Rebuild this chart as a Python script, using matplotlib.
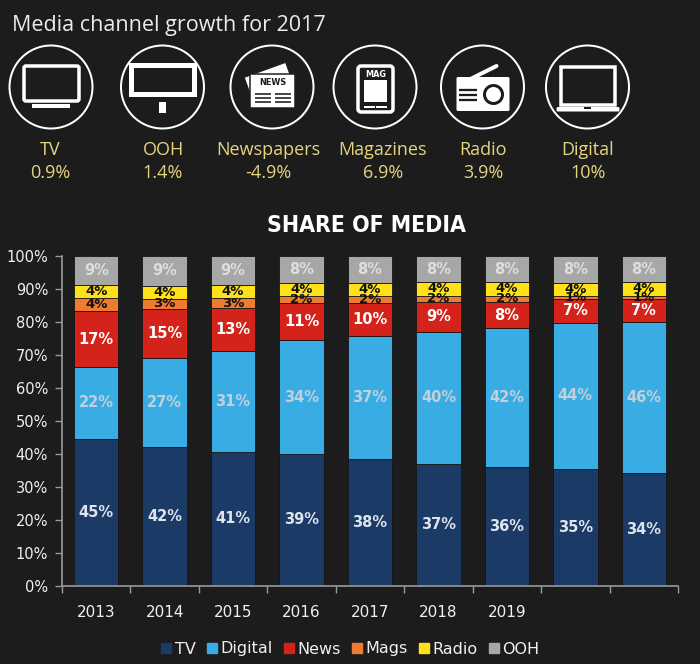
import numpy as np
import matplotlib
matplotlib.use('Agg')
import matplotlib.pyplot as plt
from matplotlib.patches import Circle, Rectangle, FancyBboxPatch, Polygon
from matplotlib.lines import Line2D

# ────────────────────────────────────────────────
# Data
# ────────────────────────────────────────────────
years = ['2013', '2014', '2015', '2016', '2017', '2018', '2019', '', '']
tv      = [45, 42, 41, 39, 38, 37, 36, 35, 34]
digital = [22, 27, 31, 34, 37, 40, 42, 44, 46]
news    = [17, 15, 13, 11, 10, 9, 8, 7, 7]
mags    = [4, 3, 3, 2, 2, 2, 2, 1, 1]
radio   = [4, 4, 4, 4, 4, 4, 4, 4, 4]
ooh     = [9, 9, 9, 8, 8, 8, 8, 8, 8]

series_names = ['TV', 'Digital', 'News', 'Mags', 'Radio', 'OOH']
series_colors = ['#1b3a66', '#39ade3', '#d3231b', '#ee7b2f', '#ffe11a', '#a7a7a7']
label_colors = ['#dde4ee', '#c3d0db', '#ffffff', '#111111', '#111111', '#dedede']

channels = ['TV', 'OOH', 'Newspapers', 'Magazines', 'Radio', 'Digital']
growth = ['0.9%', '1.4%', '-4.9%', '6.9%', '3.9%', '10%']

BG = '#1c1c1c'
GOLD = '#e6d57f'

fig = plt.figure(figsize=(7, 6.64), dpi=100, facecolor=BG)

# ────────────────────────────────────────────────
# Header: title + icons (pixel coords overlay)
# ────────────────────────────────────────────────
top = fig.add_axes([0, 0, 1, 1])
top.set_xlim(0, 700)
top.set_ylim(664, 0)
top.axis('off')
top.patch.set_alpha(0)

top.text(12, 25, 'Media channel growth for 2017', color='#ececec',
         fontsize=15.5, family='Open Sans', va='center', ha='left')

centers = [51, 162.5, 272, 375, 482.5, 587.5]
label_x = [50, 163, 268, 383, 483, 588]
cy = 87
px = 0.72  # 1px in points

for cx in centers:
    top.add_patch(Circle((cx, cy), 41.5, fill=False, ec='white', lw=2 * px))


def rrect(ax, x0, y0, w, h, r=1.5, **kw):
    ax.add_patch(FancyBboxPatch((x0, y0), w, h,
                                boxstyle=f'round,pad=0,rounding_size={r}', **kw))

# TV
cx = centers[0]
rrect(top, cx - 27, cy - 21, 55, 35, r=2, fill=False, ec='white', lw=3.5 * px)
top.add_patch(Rectangle((cx - 19, cy + 17), 38, 3.5, color='white', lw=0))

# OOH billboard
cx = centers[1]
top.add_patch(Rectangle((cx - 31.5, cy - 22.5), 63, 29, fill=False, ec='white', lw=5 * px))
top.add_patch(Rectangle((cx - 3.3, cy + 15), 6.6, 11, color='white', lw=0))

# Newspaper
cx = centers[2]
back = np.array([[-25.8, -6.6], [15.6, -21.6], [25.8, 6.6], [-15.6, 21.6]]) + [cx - 2, cy - 3]
top.add_patch(Polygon(back, closed=True, fc='white', ec=BG, lw=1 * px))
top.add_patch(Rectangle((cx - 22, cy - 13), 45, 34, fc='white', ec=BG, lw=1.5 * px))
top.text(cx + 0.5, cy - 4.5, 'NEWS', color=BG, fontsize=6.5, fontweight='bold',
         fontstretch='condensed', ha='center', va='center')
for yy in (cy + 7, cy + 11, cy + 15):
    top.plot([cx - 17, cx - 1], [yy, yy], color=BG, lw=1.6 * px, solid_capstyle='butt')
    top.plot([cx + 3, cx + 19], [yy, yy], color=BG, lw=1.6 * px, solid_capstyle='butt')

# Magazine tablet
cx = centers[3]
rrect(top, cx - 17, cy - 21, 35, 46, r=3, fc=BG, ec='white', lw=3.5 * px)
top.text(cx + 0.5, cy - 12.5, 'MAG', color='white', fontsize=6.5, fontweight='bold',
         fontstretch='condensed', ha='center', va='center')
top.add_patch(Rectangle((cx - 11, cy - 7), 23, 22, color='white', lw=0))
top.plot([cx - 10, cx - 1], [cy + 20, cy + 20], color='white', lw=2 * px)
top.plot([cx + 2, cx + 11], [cy + 20, cy + 20], color='white', lw=2 * px)

# Radio
cx = centers[4]
top.plot([cx - 22, cx + 14], [cy - 3, cy - 21], color='white', lw=4 * px, solid_capstyle='round')
rrect(top, cx - 26, cy - 10, 53, 34, r=1.5, fc='white', ec='none')
for yy in (cy + 2.5, cy + 7.5, cy + 12.5):
    top.plot([cx - 24, cx - 5.5], [yy, yy], color=BG, lw=2.3 * px, solid_capstyle='butt')
top.add_patch(Circle((cx + 11, cy + 7.5), 10.5, color=BG, lw=0))
top.add_patch(Circle((cx + 11, cy + 7.5), 7.5, color='white', lw=0))

# Laptop
cx = centers[5]
top.add_patch(Rectangle((cx - 27, cy - 20.5), 54, 38.5, fill=False, ec='white', lw=3.5 * px))
rrect(top, cx - 31, cy + 20, 63, 4.5, r=1.5, fc='white', ec='none')
top.add_patch(Rectangle((cx - 3.5, cy + 20), 7, 1.6, color=BG, lw=0))

for x, name, g in zip(label_x, channels, growth):
    top.text(x, 150, name, color=GOLD, fontsize=13, family='Open Sans',
             ha='center', va='center')
    top.text(x, 173, g, color=GOLD, fontsize=13, family='Open Sans',
             ha='center', va='center')

top.text(366, 226, 'SHARE OF MEDIA', color='white', fontsize=16.5, fontweight='heavy',
         family='DejaVu Sans', fontstretch='condensed', ha='center', va='center')

# ────────────────────────────────────────────────
# Stacked bars (100% stacked)
# ────────────────────────────────────────────────
ax = fig.add_axes([62 / 700, 1 - 585.5 / 664, 616 / 700, 329.5 / 664])
ax.set_facecolor('none')

data = np.array([tv, digital, news, mags, radio, ooh], dtype=float)
labels = data.astype(int)
shares = data / data.sum(axis=0) * 100
x = np.arange(len(years))

bottom = np.zeros(len(years))
for vals, lab, name, col, lcol in zip(shares, labels, series_names, series_colors, label_colors):
    small = name in ('Mags', 'Radio')
    ax.bar(x, vals, bottom=bottom, width=0.65, color=col, edgecolor='#151515',
           linewidth=0.6, label=name)
    for xi, b, v, l in zip(x, bottom, vals, lab):
        ax.text(xi, b + v / 2, f'{l}%', color=lcol, fontsize=9.5 if small else 10.5,
                fontweight='bold', ha='center', va='center')
    bottom += vals

ax.set_xlim(-0.5, len(years) - 0.5)
ax.set_ylim(0, 100)
ax.set_yticks(np.arange(0, 101, 10))
ax.set_yticklabels([f'{v}%' for v in range(0, 101, 10)])
ax.set_xticks(x)
ax.set_xticklabels(years)
ax.set_xticks(np.arange(-0.5, len(years)), minor=True)
ax.tick_params(axis='x', which='major', length=0, pad=14, colors='#f0f0f0', labelsize=11)
ax.tick_params(axis='x', which='minor', length=5, color='#9a9a9a', width=1)
ax.tick_params(axis='y', length=5, color='#9a9a9a', width=1, colors='#f0f0f0',
               labelsize=10.5, pad=5)
for t in ax.get_yticklines():
    t.set_color('#9a9a9a')
for s in ['top', 'right']:
    ax.spines[s].set_visible(False)
for s in ['left', 'bottom']:
    ax.spines[s].set_color('#9a9a9a')
    ax.spines[s].set_linewidth(1.2)

handles = [Line2D([], [], marker='s', ls='none', color=c, markersize=7.5)
           for c in series_colors]
fig.legend(handles, series_names, loc='center', bbox_to_anchor=(350 / 700, 1 - 649 / 664),
           ncol=6, frameon=False, fontsize=11.5, labelcolor='#f0f0f0',
           handlelength=0.7, handletextpad=0.2, columnspacing=0.65)

fig.savefig('out.png', dpi=100, facecolor=BG)
